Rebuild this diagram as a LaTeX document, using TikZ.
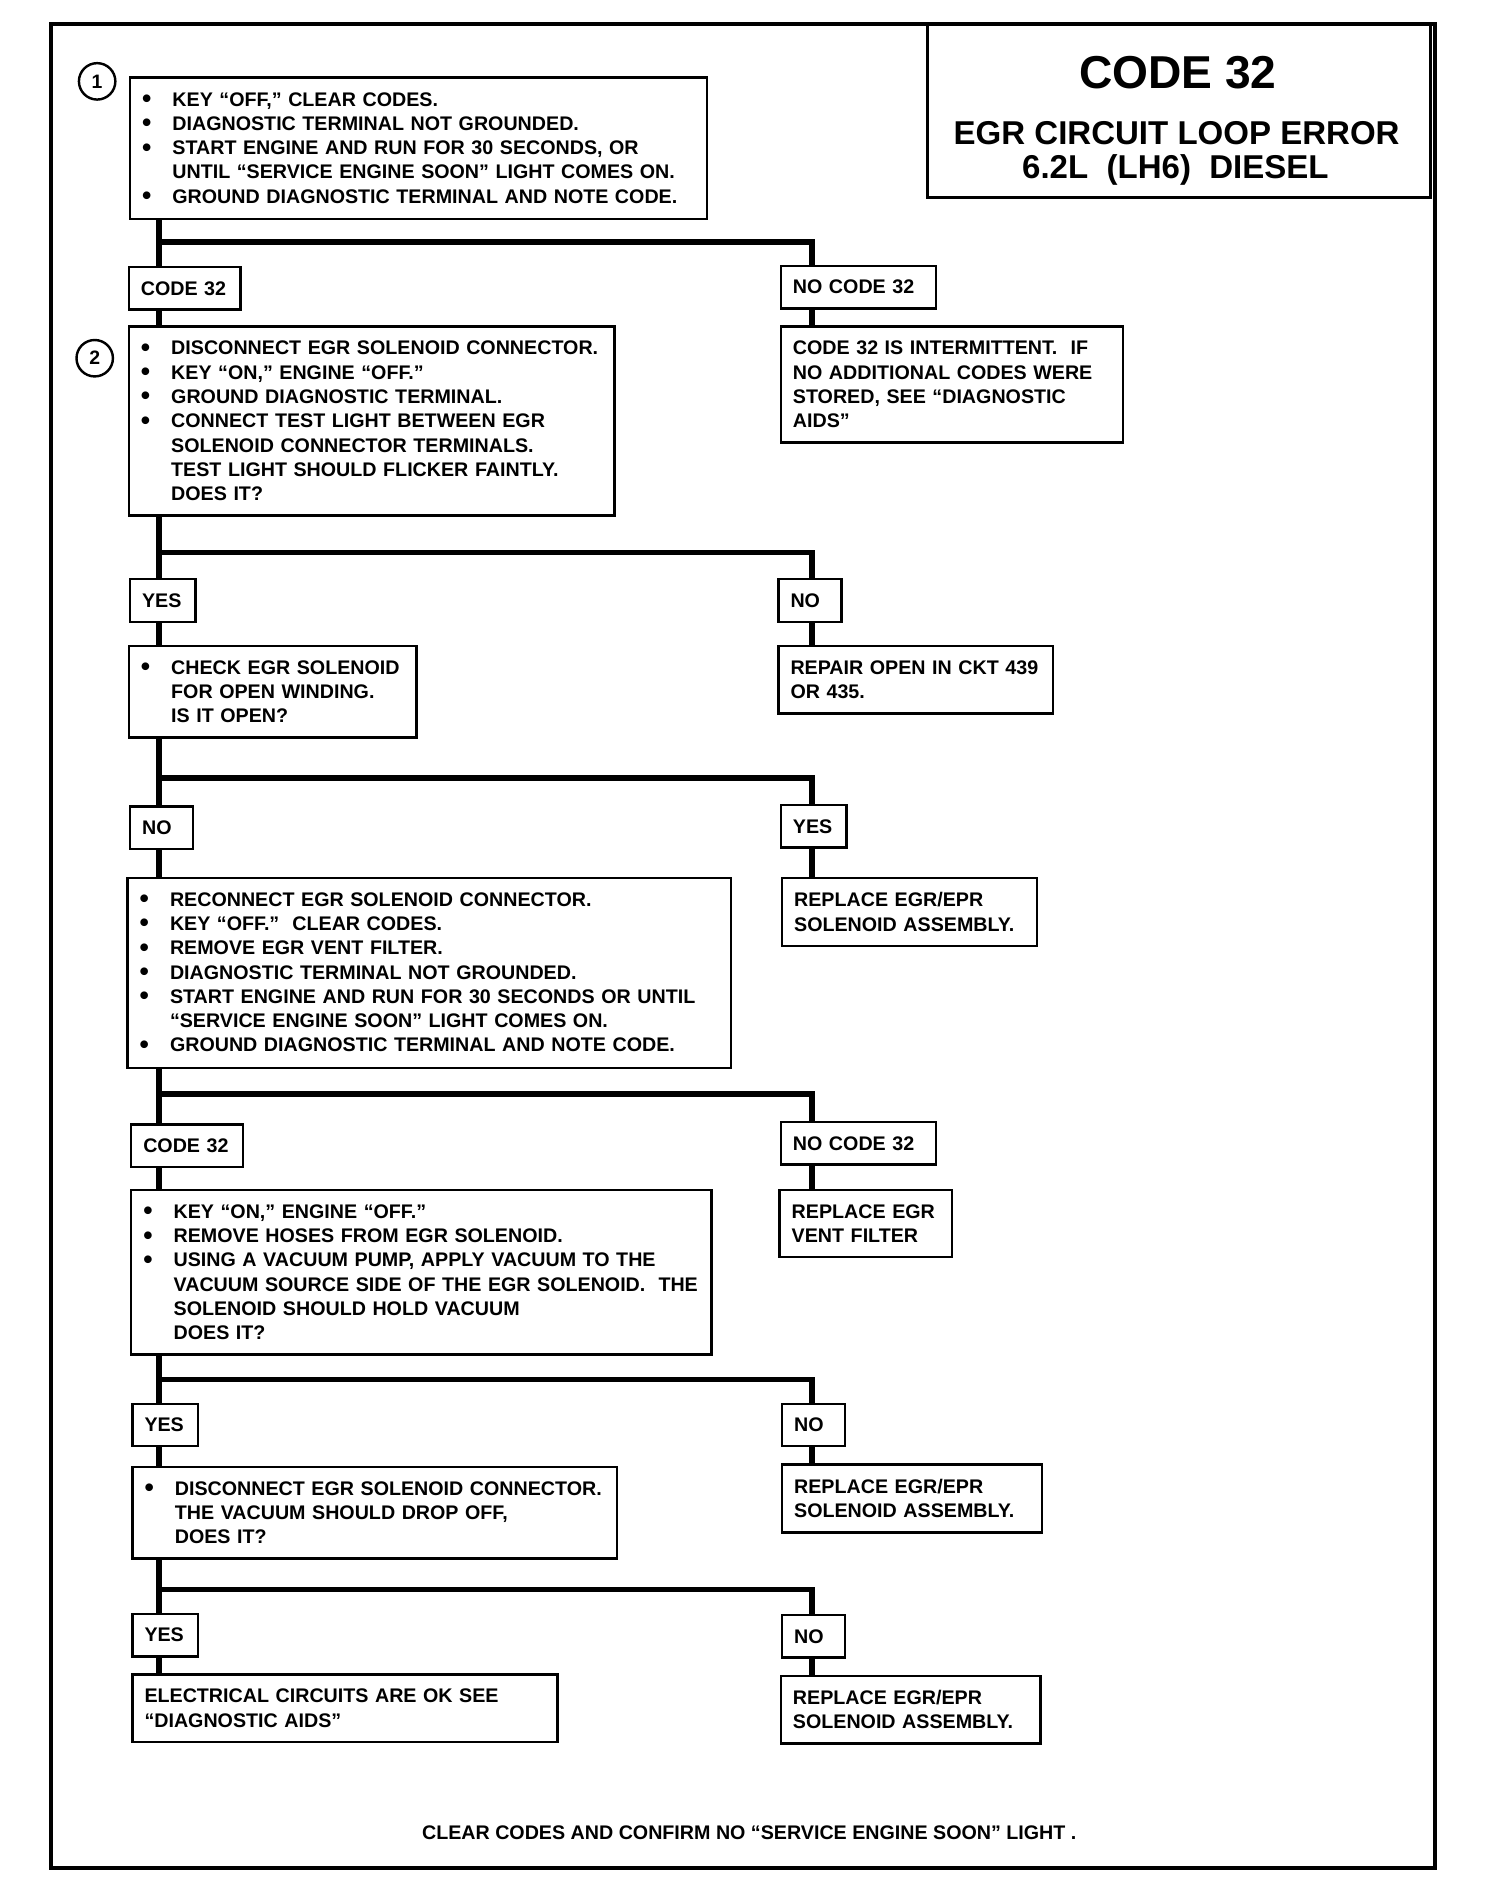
\documentclass[tikz,border=0pt]{standalone}
\usepackage{fontspec}
\setmainfont{Liberation Sans}

% bullet line, continued line, plain line
\newcommand{\itm}[1]{\makebox[12.5pt][l]{\raisebox{-0.6pt}{\scalebox{1.35}{\textbullet}}}\mbox{#1}}
\newcommand{\cnt}[1]{\hspace*{12.5pt}\mbox{#1}}
\newcommand{\row}[1]{\mbox{#1}}

\tikzset{
  box/.style={draw,line width=1pt,anchor=north west,align=left,inner xsep=5pt,inner ysep=6pt,
    font=\bfseries\fontsize{8.1}{10}\selectfont},
  lab/.style={box,inner ysep=0pt,minimum height=17.5pt},
  num/.style={draw,circle,line width=1pt,minimum size=15pt,inner sep=0pt,font=\bfseries\fontsize{8}{8}\selectfont},
  wire/.style={line width=2.4pt},
}

\begin{document}
\begin{tikzpicture}[x=0.5pt,y=-0.5pt]
\useasboundingbox (0,0) rectangle (1239,1568);
% frame and title
\draw[line width=1.7pt] (42,20) rectangle (1182,1538);
\draw[line width=1.2pt] (764,20) rectangle (1178,163);
\node[font=\bfseries\fontsize{19}{19}\selectfont] (t1) at (970,60) {CODE 32};
\node[font=\bfseries\fontsize{13.6}{14}\selectfont] (t2) at (969,110) {EGR CIRCUIT LOOP ERROR};
\node[font=\bfseries\fontsize{13.6}{14}\selectfont] (t3) at (968,140) {6.2L\ \ (LH6)\ \ DIESEL};

% step 1
\node[num] (n1) at (80,67) {1};
\node[box,text width=227.5pt] (s1) at (106,63) {\itm{KEY “OFF,” CLEAR CODES.}\\
  \itm{DIAGNOSTIC TERMINAL NOT GROUNDED.}\\
  \itm{START ENGINE AND RUN FOR 30 SECONDS, OR}\\
  \cnt{UNTIL “SERVICE ENGINE SOON” LIGHT COMES ON.}\\
  \itm{GROUND DIAGNOSTIC TERMINAL AND NOTE CODE.}};
\node[lab,text width=36pt] (c32a) at (105,219) {CODE~32};
\node[lab,text width=54pt] (nc32a) at (642,218) {NO~CODE~32};

% step 2
\node[num] (n2) at (78,295) {2};
\node[box,text width=190pt] (s2) at (105,268) {\itm{DISCONNECT EGR SOLENOID CONNECTOR.}\\
  \itm{KEY “ON,” ENGINE “OFF.”}\\
  \itm{GROUND DIAGNOSTIC TERMINAL.}\\
  \itm{CONNECT TEST LIGHT BETWEEN EGR}\\
  \cnt{SOLENOID CONNECTOR TERMINALS.}\\
  \cnt{TEST LIGHT SHOULD FLICKER FAINTLY.}\\
  \cnt{DOES IT?}};
\node[box,text width=131pt] (int) at (642,268) {\row{CODE 32 IS INTERMITTENT.\ \ IF}\\
  \row{NO ADDITIONAL CODES WERE}\\ \row{STORED, SEE “DIAGNOSTIC}\\ \row{AIDS”}};
\node[lab,text width=17pt] (y1) at (106,476) {YES};
\node[lab,text width=16pt] (no1) at (640,476) {NO};
\node[box,text width=108.5pt] (s3) at (105,531) {\itm{CHECK EGR SOLENOID}\\
  \cnt{FOR OPEN WINDING.}\\ \cnt{IS IT OPEN?}};
\node[box,text width=103pt] (rep1) at (640,531) {\row{REPAIR OPEN IN CKT 439}\\ \row{OR 435.}};
\node[lab,text width=16pt] (no2) at (106,663) {NO};
\node[lab,text width=17pt] (y2) at (642,662) {YES};
\node[box,text width=238.5pt] (s4) at (104,722) {\itm{RECONNECT EGR SOLENOID CONNECTOR.}\\
  \itm{KEY “OFF.”\ \ CLEAR CODES.}\\
  \itm{REMOVE EGR VENT FILTER.}\\
  \itm{DIAGNOSTIC TERMINAL NOT GROUNDED.}\\
  \itm{START ENGINE AND RUN FOR 30 SECONDS OR UNTIL}\\
  \cnt{“SERVICE ENGINE SOON” LIGHT COMES ON.}\\
  \itm{GROUND DIAGNOSTIC TERMINAL AND NOTE CODE.}};
\node[box,text width=95pt] (rep2) at (643,722) {\row{REPLACE EGR/EPR}\\ \row{SOLENOID ASSEMBLY.}};
\node[lab,text width=36pt] (c32b) at (107,925) {CODE~32};
\node[lab,text width=54pt] (nc32b) at (642,923) {NO~CODE~32};
\node[box,text width=229pt] (s5) at (107,979) {\itm{KEY “ON,” ENGINE “OFF.”}\\
  \itm{REMOVE HOSES FROM EGR SOLENOID.}\\
  \itm{USING A VACUUM PUMP, APPLY VACUUM TO THE}\\
  \cnt{VACUUM SOURCE SIDE OF THE EGR SOLENOID.\ \ THE}\\
  \cnt{SOLENOID SHOULD HOLD VACUUM}\\
  \cnt{DOES IT?}};
\node[box,text width=61pt] (vent) at (641,979) {\row{REPLACE EGR}\\ \row{VENT FILTER}};
\node[lab,text width=17pt] (y3) at (108,1155) {YES};
\node[lab,text width=16pt] (no3) at (643,1155) {NO};
\node[box,text width=189.5pt] (s6) at (108,1207) {\itm{DISCONNECT EGR SOLENOID CONNECTOR.}\\
  \cnt{THE VACUUM SHOULD DROP OFF,}\\ \cnt{DOES IT?}};
\node[box,text width=97pt] (rep3) at (643,1205) {\row{REPLACE EGR/EPR}\\ \row{SOLENOID ASSEMBLY.}};
\node[lab,text width=17pt] (y4) at (108,1328) {YES};
\node[lab,text width=16pt] (no4) at (643,1329) {NO};
\node[box,text width=165pt] (ok) at (108,1378) {\row{ELECTRICAL CIRCUITS ARE OK SEE}\\ \row{“DIAGNOSTIC AIDS”}};
\node[box,text width=97pt] (rep4) at (642,1379) {\row{REPLACE EGR/EPR}\\ \row{SOLENOID ASSEMBLY.}};
\node[font=\bfseries\fontsize{8.1}{10}\selectfont] (foot) at (617,1509) {CLEAR CODES AND CONFIRM NO “SERVICE ENGINE SOON” LIGHT .};

% connecting lines
\coordinate (spine) at (131,0);
\coordinate (rspine) at (669,0);
\coordinate (j1) at (131,199);
\coordinate (j2) at (131,455);
\coordinate (j3) at (131,641);
\coordinate (j4) at (131,901);
\coordinate (j5) at (131,1136);
\coordinate (j6) at (131,1309);
\foreach \a/\b in {s1/c32a,c32a/s2,s2/y1,y1/s3,s3/no2,no2/s4,s4/c32b,c32b/s5,s5/y3,y3/s6,s6/y4,y4/ok}
  \draw[wire] (\a.south -| spine) -- (\b.north -| spine);
\foreach \j/\a/\b in {j1/nc32a/int,j2/no1/rep1,j3/y2/rep2,j4/nc32b/vent,j5/no3/rep3,j6/no4/rep4}{
  \draw[wire] (\j) -| (\a.north -| rspine);
  \draw[wire] (\a.south -| rspine) -- (\b.north -| rspine);
}
\end{tikzpicture}
\end{document}
